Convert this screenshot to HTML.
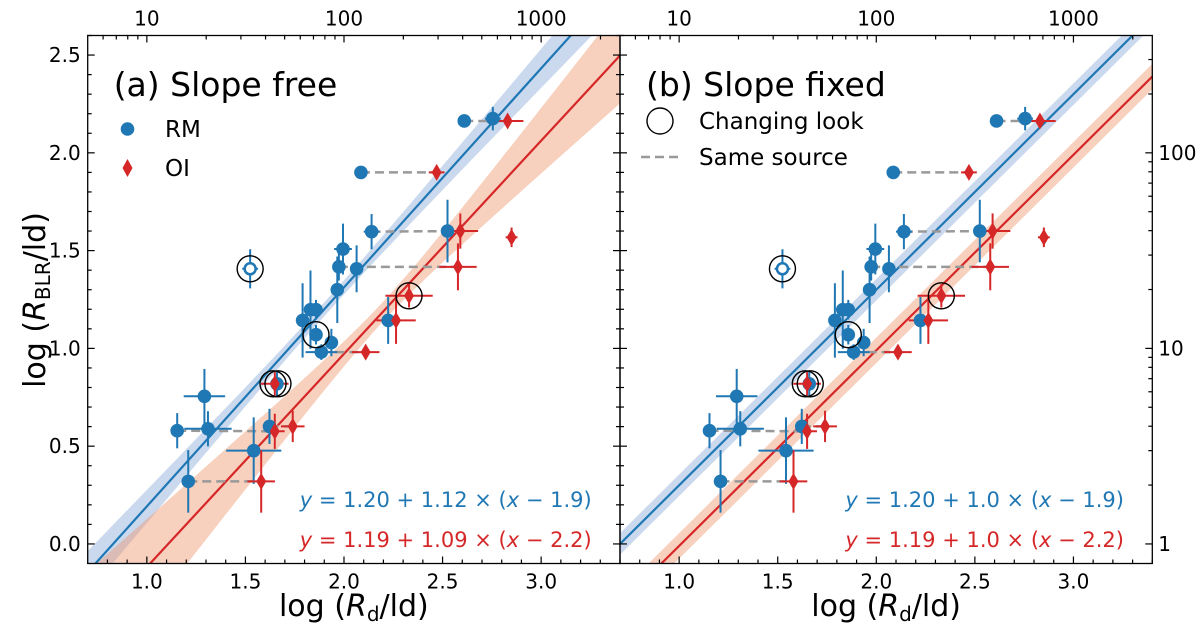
<!DOCTYPE html>
<html><head><meta charset="utf-8"><style>
html,body{margin:0;padding:0;background:#fff;overflow:hidden;}
svg{display:block;overflow:hidden;font-family:"DejaVu Sans","Liberation Sans",sans-serif;}
</style></head><body>
<svg id="chart" width="1200" height="632" viewBox="0 0 1200 632" xmlns="http://www.w3.org/2000/svg"></svg>
<script>
// ---- data ----
const rmX  = [2.61,2.755,2.086,2.14,2.525,1.995,1.524,1.974,2.064,1.966,1.79,1.83,1.858,1.858,1.936,1.885,2.224,1.66,1.292,1.154,1.31,1.622,1.542,1.21];
const rmY  = [2.163,2.175,1.90,1.597,1.60,1.508,1.407,1.417,1.407,1.30,1.143,1.198,1.198,1.07,1.03,0.981,1.143,0.819,0.755,0.579,0.589,0.601,0.477,0.32];
const rmXe = [0.03,0.04,0.02,0.04,0.02,0.045,0.04,0.01,0.03,0.01,0.01,0.01,0.01,0.03,0.01,0.08,0.02,0.02,0.105,0.02,0.12,0.01,0.14,0.01];
const rmYe = [0.02,0.06,0.02,0.09,0.16,0.13,0.10,0.07,0.12,0.17,0.19,0.20,0.05,0.05,0.07,0.04,0.12,0.06,0.14,0.09,0.09,0.09,0.17,0.16];
const rmOpen = [7];
const oiX  = [2.83,2.47,2.59,2.85,2.578,2.33,2.11,2.264,1.649,1.649,1.74,1.58];
const oiY  = [2.163,1.90,1.60,1.568,1.417,1.269,0.981,1.143,0.819,0.576,0.601,0.32];
const oiXe = [0.08,0.04,0.09,0.03,0.095,0.12,0.07,0.10,0.07,0.05,0.06,0.07];
const oiYe = [0.03,0.02,0.09,0.05,0.12,0.06,0.02,0.12,0.06,0.09,0.08,0.16];
const pairRM = [1,3,4,8,16,17,20,22,24];
const pairOI = [1,2,3,5,7,8,10,11,12];
const clX = [1.524,1.858,2.33,1.64,1.665];
const clY = [1.407,1.07,1.269,0.819,0.819];
const fitA = {rmC:1.20, rmS:[1.12,1.0], rmX0:1.9, oiC:1.19, oiS:[1.09,1.0], oiX0:2.2};
const xTicks = [1.0,1.5,2.0,2.5,3.0];
const yTicks = [0.0,0.5,1.0,1.5,2.0,2.5];
const topTicks = [10,100,1000];
const rightTicks = [1,10,100];

const svg = document.getElementById('chart');
const NS = 'http://www.w3.org/2000/svg';
function mk(tag, attrs, parent){const e=document.createElementNS(NS,tag);for(const k in attrs)e.setAttribute(k,attrs[k]);(parent||svg).appendChild(e);return e;}

const XMIN=0.7,XMAX=3.4,YMIN=-0.1,YMAX=2.6;
const TOP=35.5,BOT=563.5,W=532.3;
const panels=[{x0:87.7,title:'(a) Slope free',k:0},{x0:620,title:'(b) Slope fixed',k:1}];

panels.forEach((P,pi)=>{
  const g=mk('g',{});
  
  
  const sx=v=>P.x0+(v-XMIN)/(XMAX-XMIN)*W;
  const sy=v=>BOT-(v-YMIN)/(YMAX-YMIN)*(BOT-TOP);
  const cid='clip'+pi;
  const cp=mk('clipPath',{id:cid},g); mk('rect',{x:P.x0,y:TOP,width:W,height:BOT-TOP},cp);
  const plot=mk('g',{'clip-path':'url(#'+cid+')'},g);

  function band(c,s,x0,a,b,fill,name){
    const up=[],dn=[];
    for(let i=0;i<=60;i++){const x=XMIN+(XMAX-XMIN)*i/60;const y=c+s*(x-x0);const h=P.k?a:Math.sqrt(a*a+(b*(x-x0))**2);up.push(sx(x)+','+sy(y+h));dn.unshift(sx(x)+','+sy(y-h));}
    const p=mk('polygon',{points:up.concat(dn).join(' '),fill:fill},plot);
    
    
  }
  band(fitA.rmC,fitA.rmS[P.k],fitA.rmX0,P.k?0.055:0.035,0.085,'rgba(150,180,222,0.5)','rm-fit-band');
  band(fitA.oiC,fitA.oiS[P.k],fitA.oiX0,P.k?0.065:0.05,0.2,'rgba(240,150,110,0.45)','oi-fit-band');
  function line(c,s,x0,col,name){
    const l=mk('line',{x1:sx(XMIN),y1:sy(c+s*(XMIN-x0)),x2:sx(XMAX),y2:sy(c+s*(XMAX-x0)),stroke:col,'stroke-width':2.2},plot);
    
    
  }
  line(fitA.rmC,fitA.rmS[P.k],fitA.rmX0,'#1f77b4','rm-fit-line');
  line(fitA.oiC,fitA.oiS[P.k],fitA.oiX0,'#d62728','oi-fit-line');

  pairRM.forEach((r,i)=>{const o=pairOI[i];
    const l=mk('line',{x1:sx(rmX[r-1]),y1:sy(rmY[r-1]),x2:sx(oiX[o-1]),y2:sy(oiY[o-1]),stroke:'#999','stroke-width':2.5,'stroke-dasharray':'9,5'},plot);
    
    
  });
  function errs(X,Y,XE,YE,col){X.forEach((x,i)=>{
    mk('line',{x1:sx(x-XE[i]),x2:sx(x+XE[i]),y1:sy(Y[i]),y2:sy(Y[i]),stroke:col,'stroke-width':2},plot);
    mk('line',{x1:sx(x),x2:sx(x),y1:sy(Y[i]-YE[i]),y2:sy(Y[i]+YE[i]),stroke:col,'stroke-width':2},plot);});}
  errs(rmX,rmY,rmXe,rmYe,'#1f77b4');
  errs(oiX,oiY,oiXe,oiYe,'#d62728');
  rmX.forEach((x,i)=>{const open=rmOpen.includes(i+1);
    const c=mk('circle',{cx:sx(x),cy:sy(rmY[i]),r:open?5.5:6.8,fill:open?'#fff':'#1f77b4',stroke:'#1f77b4','stroke-width':open?2.5:0},plot);
    
    
  });
  oiX.forEach((x,i)=>{const cx=sx(x),cy=sy(oiY[i]);
    const d=mk('polygon',{points:`${cx},${cy-8.5} ${cx+5},${cy} ${cx},${cy+8.5} ${cx-5},${cy}`,fill:'#d62728'},plot);
    
    
  });
  clX.forEach((x,i)=>{
    const c=mk('circle',{cx:sx(x),cy:sy(clY[i]),r:13,fill:'none',stroke:'#000','stroke-width':1.4},plot);
    
    
  });

  mk('rect',{x:P.x0,y:TOP,width:W,height:BOT-TOP,fill:'none',stroke:'#000','stroke-width':1.3},g);
  for(let v=0.8;v<=3.4001;v+=0.1){const x=sx(v);const maj=Math.abs(v*2-Math.round(v*2))<1e-6;
    mk('line',{x1:x,x2:x,y1:BOT,y2:BOT-(maj?7:4),stroke:'#000','stroke-width':1.2},g);}
  xTicks.forEach(v=>{const t=mk('text',{x:sx(v),y:BOT+25,'font-size':20,'text-anchor':'middle'},g);t.textContent=v.toFixed(1);
    });
  for(let d=0;d<4;d++)for(let m=1;m<10;m++){const lv=d+Math.log10(m);if(lv<XMIN||lv>XMAX)continue;const x=sx(lv);
    mk('line',{x1:x,x2:x,y1:TOP,y2:TOP+(m===1?7:4),stroke:'#000','stroke-width':1.2},g);}
  topTicks.forEach(v=>{const t=mk('text',{x:sx(Math.log10(v)),y:TOP-10,'font-size':20,'text-anchor':'middle'},g);t.textContent=v;
    });
  for(let v=0;v<=2.6001;v+=0.1){const y=sy(v);const maj=Math.abs(v*2-Math.round(v*2))<1e-6;
    mk('line',{x1:P.x0,x2:P.x0+(maj?7:4),y1:y,y2:y,stroke:'#000','stroke-width':1.2},g);
    if(pi===0) mk('line',{x1:P.x0+W,x2:P.x0+W-(maj?7:4),y1:y,y2:y,stroke:'#000','stroke-width':1.2},g);}
  if(pi===0) yTicks.forEach(v=>{const t=mk('text',{x:P.x0-7,y:sy(v)+7,'font-size':20,'text-anchor':'end'},g);t.textContent=v.toFixed(1);
    });
  if(pi===1){
    for(let d=0;d<3;d++)for(let m=1;m<10;m++){const lv=d+Math.log10(m);if(lv<YMIN||lv>YMAX)continue;const y=sy(lv);
      mk('line',{x1:P.x0+W,x2:P.x0+W-(m===1?7:4),y1:y,y2:y,stroke:'#000','stroke-width':1.2},g);}
    rightTicks.forEach(v=>{const t=mk('text',{x:P.x0+W+6,y:sy(Math.log10(v))+7,'font-size':20},g);t.textContent=v;
      });
  }
  const xl=mk('text',{x:P.x0+W/2,y:616,'font-size':30,'text-anchor':'middle'},g);
  xl.innerHTML='log (<tspan font-style="italic">R</tspan><tspan font-size="20" dy="5">d</tspan><tspan dy="-5">/ld)</tspan>';
  
  const tt=mk('text',{x:P.x0+26,y:96,'font-size':33},g);tt.textContent=P.title;
  
  const s1=P.k?'1.0':'1.12', s2=P.k?'1.0':'1.09';
  const e1=mk('text',{x:P.x0+504,y:507,'font-size':21,'text-anchor':'end',fill:'#1f77b4'},g);
  e1.innerHTML='<tspan font-style="italic">y</tspan> = 1.20 + '+s1+' × (<tspan font-style="italic">x</tspan> − 1.9)';
  
  const e2=mk('text',{x:P.x0+504,y:547,'font-size':21,'text-anchor':'end',fill:'#d62728'},g);
  e2.innerHTML='<tspan font-style="italic">y</tspan> = 1.19 + '+s2+' × (<tspan font-style="italic">x</tspan> − 2.2)';
  
  const lg=mk('g',{},g);
  
  if(pi===0){
    mk('circle',{cx:127.5,cy:129,r:6.8,fill:'#1f77b4'},lg);
    let t=mk('text',{x:165,y:137,'font-size':23},lg);t.textContent='RM';
    
    mk('polygon',{points:'127.5,159 132.5,168 127.5,177 122.5,168',fill:'#d62728'},lg);
    t=mk('text',{x:165,y:176,'font-size':23},lg);t.textContent='OI';
    
  } else {
    mk('circle',{cx:660,cy:121,r:13,fill:'none',stroke:'#000','stroke-width':1.4},lg);
    let t=mk('text',{x:699,y:129,'font-size':23},lg);t.textContent='Changing look';
    
    mk('line',{x1:641,x2:681,y1:157,y2:157,stroke:'#999','stroke-width':2.5,'stroke-dasharray':'9,5'},lg);
    t=mk('text',{x:699,y:165,'font-size':23},lg);t.textContent='Same source';
    
  }
});
const yl=mk('text',{x:0,y:0,'font-size':30,'text-anchor':'middle',transform:'translate(45,300) rotate(-90)'});
yl.innerHTML='log (<tspan font-style="italic">R</tspan><tspan font-size="20" dy="5">BLR</tspan><tspan dy="-5">/ld)</tspan>';


</script>
</body></html>
